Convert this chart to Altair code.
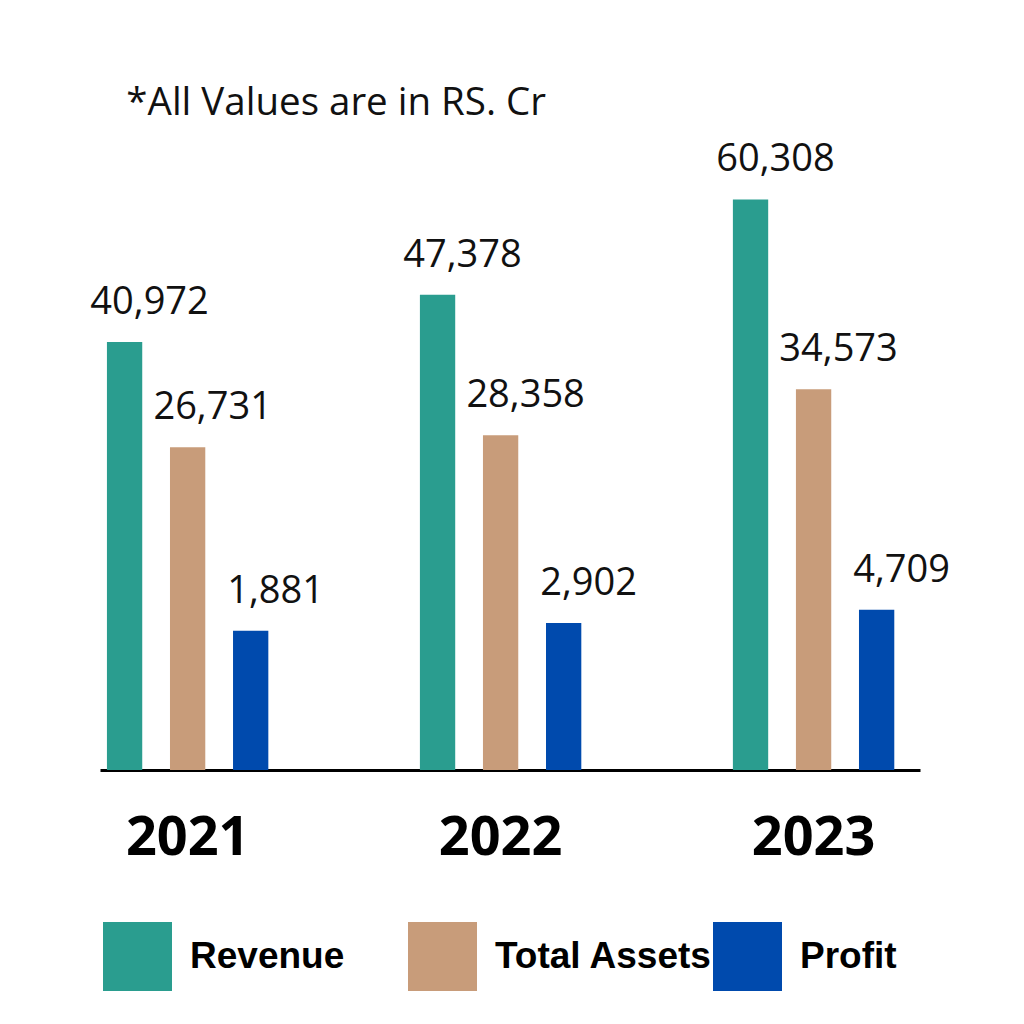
import altair as alt
import pandas as pd

years = ["2021", "2022", "2023"]
series = ["Revenue", "Total Assets", "Profit"]
revenue = [40972, 47378, 60308]
total_assets = [26731, 28358, 34573]
profit = [1881, 2902, 4709]
colors = ["#2A9D8F", "#C89C7A", "#004AAD"]

rows = []
for name, vals in zip(series, [revenue, total_assets, profit]):
    for yr, v in zip(years, vals):
        rows.append({"Year": yr, "Series": name, "Value": v})
df = pd.DataFrame(rows)

Y_MIN, Y_MAX = -17000, 67000

x = alt.X(
    "Year:N", sort=years,
    scale=alt.Scale(paddingInner=0.44, paddingOuter=0.03, align=0),
    axis=alt.Axis(title=None, labelAngle=0, ticks=False, domain=True,
                  domainColor="black", domainWidth=3,
                  labelFont="Open Sans", labelFontWeight="bold", labelFontSize=54,
                  labelColor="black", labelPadding=68, labelBaseline="middle"),
)
xo = alt.XOffset("Series:N", sort=series,
                 scale=alt.Scale(paddingInner=0.44, paddingOuter=0.11))
y = alt.Y("Value:Q", scale=alt.Scale(domain=[Y_MIN, Y_MAX], zero=False, nice=False), axis=None)
color = alt.Color(
    "Series:N", sort=series,
    scale=alt.Scale(domain=series, range=colors),
    legend=alt.Legend(title=None, orient="none", legendX=3, legendY=772,
                      direction="horizontal", symbolType="square", symbolSize=4761,
                      symbolStrokeWidth=0, symbolOpacity=1,
                      labelFont="Liberation Sans", labelFontWeight="bold",
                      labelFontSize=37, labelColor="black", labelOffset=18,
                      columnPadding=-7, gridAlign="all", padding=0, labelLimit=400),
)

bars = alt.Chart(df).mark_bar().encode(x=x, xOffset=xo, y=y, y2=alt.datum(Y_MIN), color=color)
labels = alt.Chart(df).mark_text(
    font="Open Sans", fontSize=38, align="center", baseline="alphabetic",
    dx=25, dy=-28, color="#111111"
).encode(x=x, xOffset=xo, y=y, text=alt.Text("Value:Q", format=","))

chart = alt.layer(bars, labels).properties(
    width=820, height=620,
    padding={"left": 92, "top": 142, "right": 96, "bottom": 246},
    autosize=alt.AutoSizeParams(type="none"),
    title=alt.TitleParams("*All Values are in RS. Cr", anchor="start", dx=36, dy=45, offset=33,
                          baseline="alphabetic", font="Open Sans", fontSize=38.5,
                          fontWeight="normal", color="#111111"),
).configure_view(stroke=None)

chart.save("out.html", embed_options={"renderer": "svg", "actions": False})
